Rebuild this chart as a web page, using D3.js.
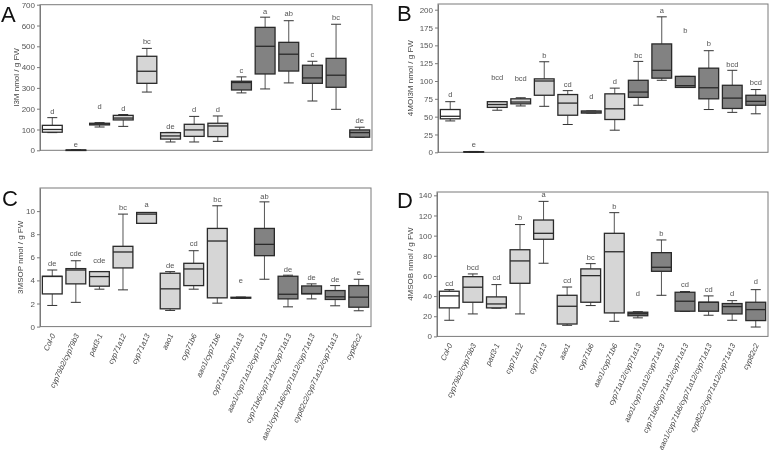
<!DOCTYPE html>
<html>
<head>
<meta charset="utf-8">
<script src="https://cdn.jsdelivr.net/npm/d3@7"></script>
<style>
  body { margin: 0; background: #fff; }
  svg { will-change: transform; }
  text { font-family: "Liberation Sans", Arial, sans-serif; }
</style>
</head>
<body>
<script>

var genotypes = ["Col-0", "cyp79b2/cyp79b3", "pad3-1", "cyp71a12", "cyp71a13", "aao1", "cyp71b6",
  "aao1/cyp71b6", "cyp71a12/cyp71a13", "aao1/cyp71a12/cyp71a13", "cyp71b6/cyp71a12/cyp71a13",
  "aao1/cyp71b6/cyp71a12/cyp71a13", "cyp82c2/cyp71a12/cyp71a13", "cyp82c2"];

// 0 = wild type, 1 = single / double mutants, 2 = cyp71a12/cyp71a13 background
var genoGroup = [0, 1, 1, 1, 1, 1, 1, 1, 2, 2, 2, 2, 2, 2];

// box stats: [min, q1, median, q3, max]
var i3m = [[85, 87, 100, 120, 157], [0, 0.5, 1, 1.5, 2], [112, 122, 126, 130, 133], [115, 146, 155, 168, 172],
  [280, 322, 380, 452, 490], [40, 54, 69, 85, 86], [40, 67, 98, 125, 163], [43, 66, 117, 130, 165],
  [276, 290, 326, 332, 353], [295, 367, 500, 591, 640], [324, 381, 462, 519, 623], [237, 322, 348, 409, 428],
  [197, 303, 361, 442, 606], [62, 63, 85, 98, 111]];
var i3mLetters = ["d", "e", "d", "d", "bc", "de", "d", "d", "c", "a", "ab", "c", "bc", "de"];
var i3mLetterAt = [189, 30, 210, 202, 522, 117, 197, 197, 383, 670, 657, 460, 639, 143];

var mo = [[44, 47, 50.5, 60, 71], [0, 0.3, 0.6, 0.9, 1.2], [59, 63, 67, 71, 71], [65, 68, 70.5, 75, 76.5],
  [64.5, 80, 100, 103, 127], [39, 52, 69, 81, 86.5], [55, 55, 56.5, 58, 58], [31, 46, 61, 82, 90],
  [66, 77, 84.5, 101, 127.5], [101, 104, 115, 152, 190], [91, 91, 93.5, 106.5, 106.5], [60, 75, 90.5, 118, 142.5],
  [56, 61.5, 76, 94, 115], [54, 66, 71.5, 80, 88]];
var moLetters = ["d", "e", "bcd", "bcd", "b", "cd", "d", "d", "bc", "a", "b", "b", "bcd", "bcd"];
var moLetterAt = [81, 11, 105, 104, 135.5, 95, 78, 100, 136, 198.5, 171.5, 153, 124, 97.5];

var msop = [[1.83, 2.83, 4.34, 4.36, 4.9], [2.1, 3.7, 4.9, 5.02, 5.7], [3.24, 3.5, 4.33, 4.76, 4.76],
  [3.18, 5.08, 6.46, 6.95, 9.74], [8.94, 8.94, 9.74, 9.88, 9.88], [1.4, 1.54, 3.27, 4.62, 4.76],
  [3.24, 3.55, 4.99, 5.48, 6.57], [2.03, 2.49, 7.41, 8.5, 10.46], [2.44, 2.46, 2.5, 2.54, 2.56],
  [4.1, 6.14, 7.12, 8.5, 10.8], [1.71, 2.4, 2.8, 4.36, 4.45], [2.4, 2.83, 2.86, 3.52, 3.7],
  [1.8, 2.35, 2.58, 3.12, 3.55], [1.37, 1.68, 2.55, 3.55, 4.1]];
var msopLetters = ["de", "cde", "cde", "bc", "a", "de", "cd", "bc", "e", "ab", "de", "de", "de", "e"];
var msopLetterAt = [5.5, 6.34, 5.77, 10.3, 10.6, 5.34, 7.2, 10.98, 3.96, 11.24, 4.99, 4.27, 4.1, 4.7];

var msob = [[16, 28.3, 40.2, 44.8, 46.4], [22.3, 33.9, 48.8, 59.3, 62], [28, 28.3, 32.2, 39.2, 51.4],
  [22.3, 52.7, 74.9, 86, 111], [72.6, 96.4, 102.3, 115.5, 134], [11, 12.3, 29.9, 40.8, 49],
  [30.6, 33.9, 60.3, 67, 72.2], [15, 23.3, 84, 102.3, 122.8], [18.4, 20.5, 22.5, 24, 24.5],
  [40.8, 64.6, 68.6, 83.1, 95.7], [24.7, 25, 34.9, 43.8, 44.5], [21, 25, 33.9, 33.9, 40.2],
  [16, 22.3, 29.6, 32.6, 35.5], [9.3, 15.7, 26.6, 33.9, 46.4]];
var msobLetters = ["cd", "bcd", "cd", "b", "a", "cd", "bc", "b", "d", "b", "cd", "cd", "d", "d"];
var msobLetterAt = [52.7, 68.9, 58.7, 118.2, 141.3, 56, 78.2, 129.4, 42.5, 102.3, 51.4, 47.1, 42.5, 54.4];

var groupFill = ["#ffffff", "#d6d6d6", "#828282"];

var svg = d3.select("body").append("svg")
  .attr("width", 771)
  .attr("height", 456);

var panels = [
  { tag: "A", title: "I3M nmol / g FW", stats: i3m, letters: i3mLetters, letterAt: i3mLetterAt,
    x0: 40, x1: 372, y0: 150.3, yTop: 4.7, dmax: 700, ticks: d3.range(0, 701, 100), xlab: false, tagX: 1, tagY: 22, titleX: 19 },
  { tag: "B", title: "4MOI3M nmol / g FW", stats: mo, letters: moLetters, letterAt: moLetterAt,
    x0: 438, x1: 768, y0: 152.3, yTop: 4, dmax: 208, ticks: d3.range(0, 201, 25), xlab: false, tagX: 397, tagY: 21, titleX: 413 },
  { tag: "C", title: "3MSOP nmol / g FW", stats: msop, letters: msopLetters, letterAt: msopLetterAt,
    x0: 40, x1: 371, y0: 326.6, yTop: 188, dmax: 12, ticks: d3.range(0, 11, 2), xlab: true, tagX: 2, tagY: 206, titleX: 23 },
  { tag: "D", title: "4MSOB nmol / g FW", stats: msob, letters: msobLetters, letterAt: msobLetterAt,
    x0: 437, x1: 768, y0: 336.4, yTop: 192, dmax: 143.3, ticks: d3.range(0, 141, 20), xlab: true, tagX: 397, tagY: 208, titleX: 413 }
];

panels.forEach(function(p) {
  var x = d3.scaleBand().domain(genotypes).range([p.x0, p.x1]).paddingInner(0.16).paddingOuter(0.1);
  var y = d3.scaleLinear().domain([0, p.dmax]).range([p.y0, p.yTop]);
  var g = svg.append("g");

  // frame
  g.append("rect")
    .attr("x", p.x0).attr("y", p.yTop)
    .attr("width", p.x1 - p.x0).attr("height", p.y0 - p.yTop)
    .attr("fill", "none").attr("stroke", "#7a7a7a").attr("stroke-width", 1);

  var yAxis = g.append("g")
    .attr("transform", "translate(" + p.x0 + ",0)")
    .call(d3.axisLeft(y).tickValues(p.ticks).tickSize(3).tickPadding(2).tickSizeOuter(0));
  yAxis.select(".domain").attr("stroke", "#7a7a7a");
  yAxis.selectAll(".tick line").attr("stroke", "#7a7a7a");
  yAxis.selectAll(".tick text").attr("fill", "#555").style("font-size", "8px")
    .style("font-family", "'Liberation Sans', Arial, sans-serif");

  g.append("text")
    .attr("transform", "translate(" + p.titleX + "," + ((p.y0 + p.yTop) / 2) + ") rotate(-90)")
    .attr("text-anchor", "middle")
    .attr("fill", "#444")
    .style("font-size", "8px")
    .text(p.title);

  g.append("text")
    .attr("x", p.tagX).attr("y", p.tagY)
    .attr("fill", "#111")
    .style("font-size", "22px")
    .text(p.tag);

  var bw = x.bandwidth();
  var boxes = g.selectAll(".box").data(p.stats).enter().append("g")
    .attr("transform", function(d, i) { return "translate(" + (x(genotypes[i]) + bw / 2) + ",0)"; });

  // whiskers
  boxes.append("line")
    .attr("y1", function(d) { return y(d[0]); }).attr("y2", function(d) { return y(d[1]); })
    .attr("stroke", "#555").attr("stroke-width", 1);
  boxes.append("line")
    .attr("y1", function(d) { return y(d[3]); }).attr("y2", function(d) { return y(d[4]); })
    .attr("stroke", "#555").attr("stroke-width", 1);
  boxes.selectAll(".cap").data(function(d) { return [d[0], d[4]]; }).enter().append("line")
    .attr("x1", -5).attr("x2", 5)
    .attr("y1", function(v) { return y(v); }).attr("y2", function(v) { return y(v); })
    .attr("stroke", "#333").attr("stroke-width", 1);

  boxes.append("rect")
    .attr("x", -bw / 2).attr("width", bw)
    .attr("y", function(d) { return y(d[3]); })
    .attr("height", function(d) { return Math.max(y(d[1]) - y(d[3]), 0.5); })
    .attr("fill", function(d, i) { return groupFill[genoGroup[i]]; })
    .attr("stroke", "#2a2a2a").attr("stroke-width", 1.3);

  boxes.append("line")
    .attr("x1", -bw / 2).attr("x2", bw / 2)
    .attr("y1", function(d) { return y(d[2]); }).attr("y2", function(d) { return y(d[2]); })
    .attr("stroke", "#2a2a2a").attr("stroke-width", 1.3);

  boxes.append("text")
    .attr("y", function(d, i) { return y(p.letterAt[i]); })
    .attr("dy", "0.35em")
    .attr("text-anchor", "middle")
    .attr("fill", "#555")
    .style("font-size", "7.5px")
    .text(function(d, i) { return p.letters[i]; });

  if (p.xlab) {
    g.selectAll(".xl").data(genotypes).enter().append("text")
      .attr("transform", function(d) { return "translate(" + (x(d) + bw / 2 + 1) + "," + (p.y0 + 7.5) + ") rotate(-65)"; })
      .attr("text-anchor", "end")
      .attr("dy", "0.35em")
      .attr("fill", "#444")
      .style("font-size", "7.5px")
      .style("font-style", "italic")
      .text(function(d) { return d; });
  }
});
</script>
</body>
</html>
